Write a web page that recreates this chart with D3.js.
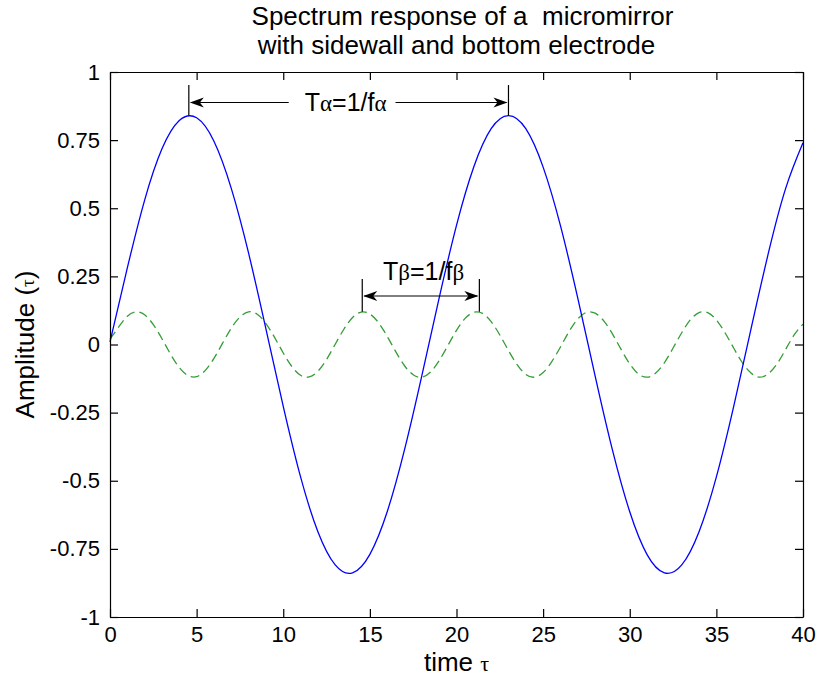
<!DOCTYPE html>
<html>
<head>
<meta charset="utf-8">
<script src="https://cdn.jsdelivr.net/npm/d3@7"></script>
<style>
  html, body { margin: 0; padding: 0; background: #fff; }
  svg { display: block; font-family: "Liberation Sans", Arial, sans-serif; }
</style>
</head>
<body>
<div id="chart"></div>
<script>
(function () {
  "use strict";

  // tick values for both axes
  const X_TICKS = [0, 5, 10, 15, 20, 25, 30, 35, 40];
  const Y_TICKS = [-1, -0.75, -0.5, -0.25, 0, 0.25, 0.5, 0.75, 1];
  const Y_TICK_LABELS = ["-1", "-0.75", "-0.5", "-0.25", "0", "0.25", "0.5", "0.75", "1"];

  // sidewall response (blue), sampled every 1 time unit from 0 to 40
  const ALPHA_STEP = 1;
  const ALPHA_VALUES = [
    0.010, 0.281, 0.530, 0.718, 0.822, 0.832, 0.746, 0.573, 0.335, 0.057,
    -0.227, -0.486, -0.687, -0.809, -0.838, -0.770, -0.614, -0.386, -0.114, 0.171,
    0.437, 0.652, 0.792, 0.840, 0.792, 0.651, 0.436, 0.170, -0.115, -0.387,
    -0.614, -0.771, -0.838, -0.809, -0.687, -0.486, -0.227, 0.057, 0.335, 0.573,
    0.740
  ];

  // bottom electrode response (green dashed), sampled every 0.5 time unit
  const BETA_STEP = 0.5;
  const BETA_VALUES = [
    0.020, 0.064, 0.104, 0.120, 0.109, 0.073, 0.021, -0.036, -0.085, -0.114,
    -0.118, -0.095, -0.051, 0.005, 0.060, 0.101, 0.120, 0.111, 0.077, 0.026,
    -0.031, -0.081, -0.113, -0.119, -0.098, -0.055, 0.001, 0.056, 0.099, 0.119,
    0.112, 0.080, 0.030, -0.027, -0.078, -0.111, -0.120, -0.101, -0.059, -0.004,
    0.052, 0.096, 0.118, 0.114, 0.084, 0.035, -0.022, -0.074, -0.110, -0.120,
    -0.103, -0.063, -0.009, 0.048, 0.094, 0.118, 0.115, 0.087, 0.039, -0.018,
    -0.071, -0.108, -0.120, -0.105, -0.067, -0.013, 0.043, 0.091, 0.117, 0.117,
    0.090, 0.043, -0.013, -0.067, -0.105, -0.120, -0.107, -0.071, -0.018, 0.036,
    0.075
  ];

  // period markers, in data units
  const ALPHA_MARK = { t0: 4.55, t1: 23.0, arrow: 0.888, top: 0.952, foot: 0.84, label: 13.6 };
  const BETA_MARK = { t0: 14.56, t1: 21.32, arrow: 0.178, top: 0.24, foot: 0.12, label: 18.1 };

  const width = 820;
  const height = 681;
  const plotLeft = 110;
  const plotRight = 803;
  const plotTop = 72;
  const plotBottom = 617;
  const tickLen = 8;

  const svg = d3.select("#chart").append("svg")
    .attr("width", width)
    .attr("height", height);

  svg.append("rect").attr("width", width).attr("height", height).attr("fill", "#fff");

  const x = d3.scaleLinear().domain([0, 40]).range([plotLeft, plotRight]);
  const y = d3.scaleLinear().domain([-1, 1]).range([plotBottom, plotTop]);

  // lines
  const line = d3.line()
    .x((d) => x(d.t))
    .y((d) => y(d.v))
    .curve(d3.curveNatural);

  const alphaPts = ALPHA_VALUES.map((v, i) => ({ t: i * ALPHA_STEP, v }));
  const betaPts = BETA_VALUES.map((v, i) => ({ t: i * BETA_STEP, v }));

  svg.append("path")
    .attr("d", line(betaPts))
    .attr("fill", "none")
    .attr("stroke", "#359d35")
    .attr("stroke-width", 1.3)
    .attr("stroke-dasharray", "9,5");

  svg.append("path")
    .attr("d", line(alphaPts))
    .attr("fill", "none")
    .attr("stroke", "#0000ff")
    .attr("stroke-width", 1.3);

  // axes, ticks pointing inwards on all four sides
  const styleAxis = (g) => {
    g.selectAll("path.domain").attr("stroke", "#000").attr("stroke-width", 1.2);
    g.selectAll(".tick line").attr("stroke", "#000").attr("stroke-width", 1.2);
    g.selectAll(".tick text")
      .attr("fill", "#000")
      .attr("font-size", 22)
      .attr("font-family", "Liberation Sans, Arial, sans-serif");
  };

  svg.append("g")
    .attr("transform", `translate(0,${plotBottom})`)
    .call(d3.axisBottom(x).tickValues(X_TICKS).tickSizeInner(-tickLen).tickSizeOuter(0).tickPadding(9))
    .call(styleAxis);

  svg.append("g")
    .attr("transform", `translate(0,${plotTop})`)
    .call(d3.axisTop(x).tickValues(X_TICKS).tickSizeInner(-tickLen).tickSizeOuter(0).tickFormat(""))
    .call(styleAxis);

  svg.append("g")
    .attr("transform", `translate(${plotLeft},0)`)
    .call(d3.axisLeft(y).tickValues(Y_TICKS).tickSizeInner(-tickLen).tickSizeOuter(0).tickPadding(10)
      .tickFormat((d, i) => Y_TICK_LABELS[i]))
    .call(styleAxis);

  svg.append("g")
    .attr("transform", `translate(${plotRight},0)`)
    .call(d3.axisRight(y).tickValues(Y_TICKS).tickSizeInner(-tickLen).tickSizeOuter(0).tickFormat(""))
    .call(styleAxis);

  // title
  const cx = (plotLeft + plotRight) / 2;
  const title = svg.append("text")
    .attr("text-anchor", "middle")
    .attr("font-size", 26)
    .attr("fill", "#000");
  title.append("tspan").attr("x", cx + 6).attr("y", 25).text("Spectrum response of a \u00a0micromirror");
  title.append("tspan").attr("x", cx).attr("y", 54).text("with sidewall and bottom electrode");

  // axis labels
  const xLabel = svg.append("text")
    .attr("x", cx)
    .attr("y", 671)
    .attr("text-anchor", "middle")
    .attr("font-size", 26)
    .attr("fill", "#000");
  xLabel.append("tspan").text("time ");
  xLabel.append("tspan").attr("font-family", "Liberation Serif, serif").attr("font-size", 22).text("τ");

  const yLabel = svg.append("text")
    .attr("transform", `translate(34,${(plotTop + plotBottom) / 2}) rotate(-90)`)
    .attr("text-anchor", "middle")
    .attr("font-size", 26)
    .attr("fill", "#000");
  yLabel.append("tspan").text("Amplitude (");
  yLabel.append("tspan").attr("font-family", "Liberation Serif, serif").attr("font-size", 19).text("τ");
  yLabel.append("tspan").text(")");

  // arrow heads with a notch, like the reference
  function arrowHead(g, tipX, tipY, dir) {
    const len = 14, half = 5, notch = 10;
    const p = d3.path();
    p.moveTo(tipX, tipY);
    p.lineTo(tipX - dir * len, tipY - half);
    p.lineTo(tipX - dir * notch, tipY);
    p.lineTo(tipX - dir * len, tipY + half);
    p.closePath();
    g.append("path").attr("d", p.toString()).attr("fill", "#000");
  }

  function periodMark(m, parts, gapText) {
    const g = svg.append("g");
    const x0 = x(m.t0), x1 = x(m.t1), ay = y(m.arrow);
    [x0, x1].forEach((xx) => {
      g.append("line")
        .attr("x1", xx).attr("x2", xx)
        .attr("y1", y(m.top)).attr("y2", y(m.foot))
        .attr("stroke", "#000").attr("stroke-width", 1.2);
    });
    const t = g.append("text")
      .attr("x", x(m.label))
      .attr("y", gapText ? ay + 8 : y(m.arrow) - 16)
      .attr("text-anchor", "middle")
      .attr("font-size", 25)
      .attr("fill", "#000");
    parts.forEach((s) => {
      const sp = t.append("tspan").text(s.text);
      if (s.greek) sp.attr("font-family", "Liberation Serif, serif").attr("font-size", 23);
    });
    if (gapText) {
      const bb = t.node().getBBox();
      g.append("line").attr("x1", x0 + 2).attr("x2", bb.x - 16).attr("y1", ay).attr("y2", ay)
        .attr("stroke", "#000").attr("stroke-width", 1.2);
      g.append("line").attr("x1", bb.x + bb.width + 9).attr("x2", x1 - 2).attr("y1", ay).attr("y2", ay)
        .attr("stroke", "#000").attr("stroke-width", 1.2);
    } else {
      g.append("line").attr("x1", x0 + 2).attr("x2", x1 - 2).attr("y1", ay).attr("y2", ay)
        .attr("stroke", "#000").attr("stroke-width", 1.2);
    }
    arrowHead(g, x0 + 1, ay, -1);
    arrowHead(g, x1 - 1, ay, 1);
  }

  periodMark(ALPHA_MARK, [
    { text: "T" }, { text: "α", greek: true }, { text: "=1/f" }, { text: "α", greek: true }
  ], true);
  periodMark(BETA_MARK, [
    { text: "T" }, { text: "β", greek: true }, { text: "=1/f" }, { text: "β", greek: true }
  ], false);
})();
</script>
</body>
</html>
